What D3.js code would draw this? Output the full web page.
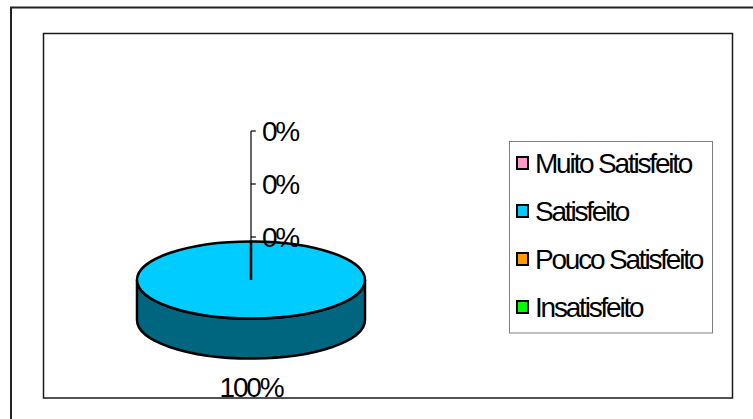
<!DOCTYPE html>
<html><head><meta charset="utf-8">
<script src="https://cdn.jsdelivr.net/npm/d3@7"></script>
<style>body{margin:0;background:#fff}svg{display:block}text{font-family:"Liberation Sans",Arial,sans-serif}</style>
</head><body><svg id="c" width="753" height="419"></svg>
<script>
const categories = ["Muito Satisfeito", "Satisfeito", "Pouco Satisfeito", "Insatisfeito"];
const values = [0, 100, 0, 0];
const topColors = ["#FF99CC", "#00CCFF", "#FF9900", "#00FF00"];
const sideColors = ["#804C66", "#006680", "#804C00", "#008000"];

const svg = d3.select("#c");
svg.append("path").attr("d","M11,419 V7.5 H753").attr("fill","none").attr("stroke","#222").attr("stroke-width",2);
svg.append("rect").attr("x",43.5).attr("y",33.5).attr("width",689).attr("height",364.5)
  .attr("fill","#fff").attr("stroke","#1a1a1a").attr("stroke-width",1.5);

const cx = 251, cy = 280, rx = 114, ry = 38.5, depth = 40;
const total = d3.sum(values);
const pie = d3.pie().sort(null).value(d => d.v);
const arcs = pie(categories.map((c,i)=>({c, v: values[i], i})));
const ex = a => cx + rx*Math.sin(a), ey = a => cy - ry*Math.cos(a);

const g = svg.append("g");
arcs.forEach(a => {
  if (a.endAngle - a.startAngle <= 0) return;
  const s = Math.max(a.startAngle, Math.PI/2), e = Math.min(a.endAngle, 3*Math.PI/2);
  if (e <= s) return;
  const large = (e - s) > Math.PI ? 1 : 0;
  const p = `M${ex(s)},${ey(s)} A${rx},${ry} 0 ${large} 1 ${ex(e)},${ey(e)} L${ex(e)},${ey(e)+depth} A${rx},${ry} 0 ${large} 0 ${ex(s)},${ey(s)+depth} Z`;
  g.append("path").attr("d", p).attr("fill", sideColors[a.data.i]).attr("stroke","#000").attr("stroke-width",2.5).attr("stroke-linejoin","round");
});
const arc = d3.arc().innerRadius(0).outerRadius(rx);
arcs.forEach(a => {
  if (a.endAngle - a.startAngle <= 0) return;
  g.append("path").attr("d", arc(a))
   .attr("transform", `translate(${cx},${cy}) scale(1,${ry/rx})`)
   .attr("fill", topColors[a.data.i]).attr("stroke","#000").attr("stroke-width",2.5).attr("vector-effect","non-scaling-stroke");
});

const FS = 28, LS = -2.2;
const fmt = d => Math.round(d.v/total*100) + "%";
const zeros = arcs.filter(a => a.data.v === 0);
const ys = d3.scalePoint().domain(zeros.map(a=>a.data.c)).range([237, 131]);
if (zeros.length) {
  svg.append("line").attr("x1",cx).attr("x2",cx).attr("y1",cy).attr("y2",ys.range()[1])
    .attr("stroke","#000").attr("stroke-width",1.2);
  zeros.forEach(a => {
    const y = ys(a.data.c);
    svg.append("line").attr("x1",cx).attr("x2",cx+5).attr("y1",y).attr("y2",y).attr("stroke","#000").attr("stroke-width",1.2);
    svg.append("text").attr("x",cx+11).attr("y",y+10).attr("font-size",FS).attr("letter-spacing",LS).text(fmt(a.data));
  });
}
svg.append("line").attr("x1",cx).attr("x2",cx).attr("y1",cy).attr("y2",ey(0)).attr("stroke","#000").attr("stroke-width",2.5);
arcs.filter(a=>a.data.v>0).forEach(a => {
  const m = (a.startAngle + a.endAngle)/2;
  svg.append("text").attr("x", ex(m)).attr("y", ey(m)+depth+38).attr("text-anchor","middle")
    .attr("font-size",FS).attr("letter-spacing",LS).text(fmt(a.data));
});

svg.append("rect").attr("x",509.5).attr("y",141.5).attr("width",203).attr("height",191.5)
  .attr("fill","#fff").attr("stroke","#808080").attr("stroke-width",1);
const ly = d3.scalePoint().domain(categories).range([163, 307]);
categories.forEach((c,i) => {
  const y = ly(c);
  svg.append("rect").attr("x",517).attr("y",y-6).attr("width",11).attr("height",12)
    .attr("fill",topColors[i]).attr("stroke","#000").attr("stroke-width",2);
  svg.append("text").attr("x",535).attr("y",y+10).attr("font-size",FS).attr("letter-spacing",LS).text(c);
});
</script></body></html>
